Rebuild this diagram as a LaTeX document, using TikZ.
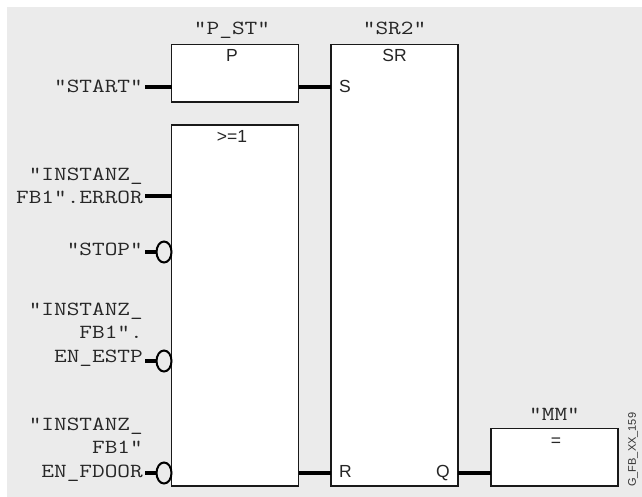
\documentclass[tikz,border=0pt]{standalone}
\usepackage{fontspec}
\setmainfont{Liberation Sans}
\setmonofont[FakeStretch=1.23]{Latin Modern Mono}
\usetikzlibrary{shapes.geometric, positioning, calc}
\definecolor{panelgray}{HTML}{EBEBEB}

\begin{document}
\begin{tikzpicture}[
  x=1pt, y=1pt,
  fbbox/.style={rectangle, draw=black!90, fill=white, line width=1.3pt, outer sep=0pt,
    minimum width=127pt, minimum height=#1},
  head/.style={inner sep=0pt, font=\fontsize{17.5}{20}\selectfont, text=black!85},
  pinname/.style={inner sep=0pt, font=\fontsize{17.5}{20}\selectfont, text=black!85},
  sym/.style={inner sep=0pt, align=right, text=black!85,
    font=\fontsize{20}{23.5}\selectfont\ttfamily},
  negate/.style={ellipse, draw=black, fill=panelgray, line width=2pt, inner sep=0pt,
    outer sep=0pt, minimum width=15pt, minimum height=21pt},
  wire/.style={line width=3.6pt, black}
]
\useasboundingbox (0,0) rectangle (642,-497);
\fill[panelgray] (7,-7) rectangle (642,-497);

% ===== BOXES =====
\node[fbbox=57.5pt, anchor=north west] (p1) at (171.5,-44.5) {};
\node[fbbox=361pt, below=23pt of p1] (or1) {};
\node[fbbox=441.5pt, right=32.5pt of p1.north east, anchor=north west] (sr2) {};
\node[fbbox=57.5pt, right=33pt of sr2.south east, anchor=south west] (mm) {};
\node[head, anchor=base] (p1h) at ($(p1.north)+(-3,-17.5)$) {P};
\node[head, anchor=base] (or1h) at ($(or1.north)+(-3,-17.5)$) {>=1};
\node[head, anchor=base] (sr2h) at ($(sr2.north)+(0,-17.5)$) {SR};
\node[head, anchor=base] (mmh) at ($(mm.north)+(1.5,-17.5)$) {=};

% ===== BOX NAMES =====
\node[sym, anchor=base] (p1n) at ($(p1.north)+(-3,9.5)$) {"P\_ST"};
\node[sym, anchor=base] (sr2n) at ($(sr2.north)+(0,9.5)$) {"SR2"};
\node[sym, anchor=base] (mmn) at ($(mm.north)+(0,8)$) {"MM"};

% ===== INPUTS =====
\coordinate (i1) at ($(p1.north west)+(-26.5,-42.5)$);
\coordinate (i2) at ($(or1.north west)+(-26.5,-71)$);
\node[negate, anchor=east] (n3) at ($(or1.north west)+(0,-127)$) {};
\node[negate, anchor=east] (n4) at ($(or1.north west)+(0,-236)$) {};
\node[negate, anchor=east] (n5) at ($(or1.north west)+(0,-348)$) {};
\coordinate[left=11.5pt of n3] (i3);
\coordinate[left=11.5pt of n4] (i4);
\coordinate[left=11.5pt of n5] (i5);
\draw[wire] (i1) -- (i1 -| p1.west);
\draw[wire] (i2) -- (i2 -| or1.west);
\draw[wire] (i3) -- (n3);
\draw[wire] (i4) -- (n4);
\draw[wire] (i5) -- (n5);
\node[sym, anchor=base east] (s1) at ($(i1)+(-2,-6)$) {"START"};
\node[sym, anchor=base east] (s2) at ($(i2)+(-2,-8)$) {"INSTANZ\_\\FB1".ERROR};
\node[sym, anchor=base east] (s3) at ($(i3)+(-2,-3)$) {"STOP"};
\node[sym, anchor=base east] (s4) at ($(i4)+(-2,-1)$) {"INSTANZ\_\\FB1".\\EN\_ESTP};
\node[sym, anchor=base east] (s5) at ($(i5)+(-2,-4)$) {"INSTANZ\_\\FB1"\\EN\_FDOOR};

% ===== SR PINS =====
\coordinate (ps) at ($(p1.north east)+(0,-42.5)$);
\coordinate (or) at ($(or1.south east)+(0,13)$);
\coordinate (sq) at ($(sr2.south east)+(0,13)$);
\draw[wire] (ps) -- (ps -| sr2.west);
\draw[wire] (or) -- (or -| sr2.west);
\draw[wire] (sq) -- (sq -| mm.west);
\node[pinname, anchor=base west] (pinS) at ($(ps -| sr2.west)+(8,-6)$) {S};
\node[pinname, anchor=base west] (pinR) at ($(or -| sr2.west)+(8,-4)$) {R};
\node[pinname, anchor=base east] (pinQ) at ($(sq)+(-8,-4)$) {Q};

% ===== CODE =====
\node[inner sep=0pt, rotate=90, anchor=west, text=black!80, font=\fontsize{11}{13}\selectfont] (code) at (633,-487) {G\_FB\_XX\_159};
\end{tikzpicture}
\end{document}
